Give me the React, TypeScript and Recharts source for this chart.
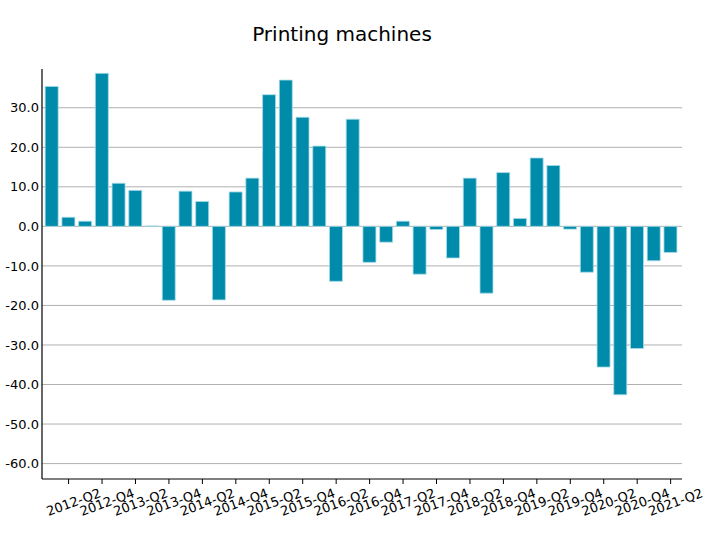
import React from 'react'
import { BarChart, Bar, XAxis, YAxis, CartesianGrid } from 'recharts'

const quarters = [
  '2012-Q1', '2012-Q2', '2012-Q3', '2012-Q4',
  '2013-Q1', '2013-Q2', '2013-Q3', '2013-Q4',
  '2014-Q1', '2014-Q2', '2014-Q3', '2014-Q4',
  '2015-Q1', '2015-Q2', '2015-Q3', '2015-Q4',
  '2016-Q1', '2016-Q2', '2016-Q3', '2016-Q4',
  '2017-Q1', '2017-Q2', '2017-Q3', '2017-Q4',
  '2018-Q1', '2018-Q2', '2018-Q3', '2018-Q4',
  '2019-Q1', '2019-Q2', '2019-Q3', '2019-Q4',
  '2020-Q1', '2020-Q2', '2020-Q3', '2020-Q4',
  '2021-Q1', '2021-Q2',
]

const changes = [
  35.4, 2.3, 1.3, 38.7,
  10.9, 9.1, 0.1, -18.7,
  8.9, 6.3, -18.6, 8.7,
  12.2, 33.3, 37.0, 27.6,
  20.3, -13.9, 27.1, -9.1,
  -4.0, 1.3, -12.1, -0.8,
  -8.0, 12.2, -16.9, 13.6,
  2.0, 17.3, 15.4, -0.7,
  -11.6, -35.6, -42.6, -30.9,
  -8.7, -6.6,
]

const xTicks = quarters.filter((_, i) => i % 2 === 1)
const yTicks = [30, 20, 10, 0, -10, -20, -30, -40, -50, -60]

const data = quarters.map((q, i) => ({ quarter: q, value: changes[i] }))

const FONT = '"DejaVu Sans", sans-serif'

function QuarterTick(props: any) {
  const { x, y, payload } = props
  return (
    <text
      transform={`translate(${x + 5},${y + 16}) rotate(-20)`}
      textAnchor="middle"
      dy="0.35em"
      fontSize={13}
      fontFamily={FONT}
      fill="#000"
    >
      {payload.value}
    </text>
  )
}

export default function App() {
  return (
    <div style={{ position: 'absolute', left: 0, top: 0, width: 709, height: 534, background: '#fff' }}>
      <svg width={709} height={534} style={{ position: 'absolute', left: 0, top: 0 }}>
        <text x={342} y={41} textAnchor="middle" fontSize={20} fontFamily={FONT} fill="#000">
          Printing machines
        </text>
      </svg>
      <div style={{ position: 'absolute', left: 0, top: 0 }}>
        <BarChart
          width={709}
          height={534}
          data={data}
          margin={{ top: 69, right: 27, left: 0, bottom: 10 }}
          barCategoryGap="10%"
        >
          <CartesianGrid vertical={false} horizontalValues={yTicks} stroke="#b0b0b0" strokeWidth={1} />
          <XAxis
            dataKey="quarter"
            ticks={xTicks}
            interval={0}
            height={45}
            padding={{ left: 1.5, right: 3 }}
            tick={<QuarterTick />}
            tickSize={5}
            tickMargin={2}
            stroke="#000"
            axisLine={{ stroke: '#000', strokeWidth: 1.2 }}
            tickLine={{ stroke: '#000' }}
          />
          <YAxis
            width={42}
            domain={[-63.9, 39.8]}
            ticks={yTicks}
            allowDataOverflow
            tickFormatter={(v: number) => v.toFixed(1)}
            tick={{ fontSize: 13, fontFamily: FONT, fill: '#000' }}
            tickSize={0}
            tickMargin={3}
            axisLine={{ stroke: '#000', strokeWidth: 1.2 }}
            tickLine={false}
          />
          <Bar
            dataKey="value"
            fill="#008BAA"
            stroke="#a8dce9"
            strokeWidth={0.8}
            isAnimationActive={false}
          />
        </BarChart>
      </div>
    </div>
  )
}
